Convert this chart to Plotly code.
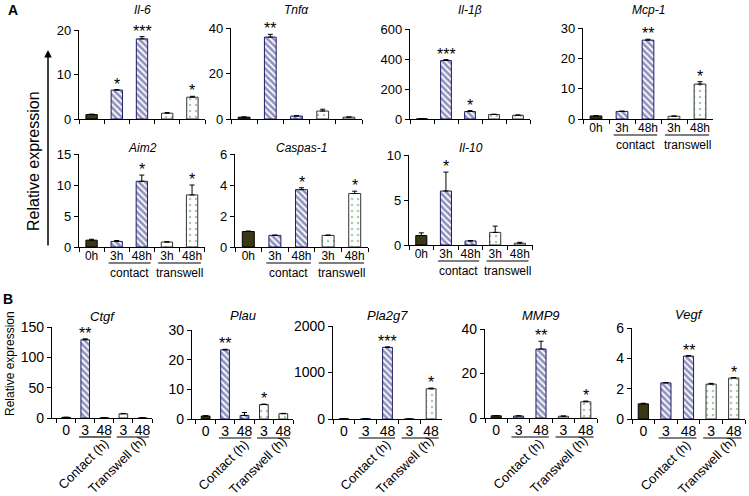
import plotly.graph_objects as go

# --- data -------------------------------------------------------------
genes = ["Il-6", "Tnfα", "Il-1β", "Mcp-1", "Aim2", "Caspas-1", "Il-10",
         "Ctgf", "Plau", "Pla2g7", "MMP9", "Vegf"]
cats = ["ctl", "c3", "c48", "t3", "t48"]
labels_a = ["0h", "3h", "48h", "3h", "48h"]
labels_b = ["0", "3", "48", "3", "48"]

il6 = [1.0, 6.5, 18.0, 1.3, 4.9]
il6_err = [0.1, 0.1, 0.5, 0.15, 0.2]
tnfa = [0.8, 36.0, 1.3, 3.5, 0.8]
tnfa_err = [0.1, 1.2, 0.2, 0.8, 0.1]
il1b = [1.0, 390.0, 50.0, 30.0, 25.0]
il1b_err = [0.5, 6.0, 6.0, 2.0, 2.0]
mcp1 = [1.0, 2.5, 26.0, 0.9, 11.5]
mcp1_err = [0.1, 0.1, 0.3, 0.1, 0.8]
aim2 = [1.1, 0.9, 10.6, 0.8, 8.4]
aim2_err = [0.15, 0.15, 1.0, 0.05, 1.6]
casp1 = [1.0, 0.75, 3.7, 0.75, 3.45]
casp1_err = [0.03, 0.02, 0.12, 0.02, 0.15]
il10 = [1.05, 6.0, 0.45, 1.4, 0.2]
il10_err = [0.3, 2.1, 0.05, 0.7, 0.1]
ctgf = [1.0, 129.0, 0.5, 7.0, 0.3]
ctgf_err = [0.2, 1.5, 0.1, 0.5, 0.1]
plau = [1.0, 23.3, 1.2, 4.9, 1.8]
plau_err = [0.1, 0.2, 1.0, 0.1, 0.1]
pla2g7 = [1.0, 5.0, 1540.0, 1.0, 650.0]
pla2g7_err = [0.5, 1.0, 10.0, 0.5, 15.0]
mmp9 = [1.0, 0.9, 31.0, 0.8, 7.3]
mmp9_err = [0.1, 0.1, 3.5, 0.1, 0.3]
vegf = [1.0, 2.38, 4.15, 2.3, 2.7]
vegf_err = [0.04, 0.02, 0.03, 0.05, 0.03]

values = [il6, tnfa, il1b, mcp1, aim2, casp1, il10, ctgf, plau, pla2g7, mmp9, vegf]
errors = [il6_err, tnfa_err, il1b_err, mcp1_err, aim2_err, casp1_err, il10_err,
          ctgf_err, plau_err, pla2g7_err, mmp9_err, vegf_err]
stars = [
    ["", "*", "***", "", "*"],
    ["", "**", "", "", ""],
    ["", "***", "*", "", ""],
    ["", "", "**", "", "*"],
    ["", "", "*", "", "*"],
    ["", "", "*", "", "*"],
    ["", "*", "", "", ""],
    ["", "**", "", "", ""],
    ["", "**", "", "*", ""],
    ["", "", "***", "", "*"],
    ["", "", "**", "", "*"],
    ["", "", "**", "", "*"],
]
ymax = [20, 40, 600, 30, 15, 6, 10, 150, 30, 2000, 40, 6]
dtick = [10, 20, 200, 10, 5, 2, 5, 50, 10, 1000, 20, 2]

# --- layout (pixel boxes: left, right, top, zero) ----------------------
W, H = 749, 496
boxes = [
    (79, 205, 30, 119), (231, 362, 28, 119), (410, 530, 29, 119), (583, 713, 28, 119),
    (79, 205, 154, 247), (235, 368, 154, 247), (409, 533, 155, 245),
    (52, 152, 327, 418), (192, 293, 330, 419), (333, 442, 326, 419),
    (485, 597, 329, 418), (632, 745, 328, 419),
]
title_y = [10, 10, 10, 10, 148, 148, 148, 316, 315, 315, 315, 314]
label_mode = ["none", "none", "none", "a", "a", "a", "a", "b", "b", "b", "b", "b"]

FONT = "Liberation Sans, Arial, sans-serif"
OLIVE = "#3a3814"
NAVY = "#21247a"
GREEN = "#5c9a5c"

# bar groups: (indices, fill, pattern shape, pattern colour, size, solidity, outline)
groups = [
    ([0], OLIVE, "", OLIVE, 4, 0.5, "black"),
    ([1, 2], "white", "\\", NAVY, 4.5, 0.6, "#1c1c66"),
    ([3, 4], "white", ".", GREEN, 6, 0.15, "#333333"),
]

fig = go.Figure()
annotations = []
shapes = []


def txt(size=12, **kw):
    base = dict(showarrow=False, xanchor="center", yanchor="middle",
                font=dict(size=size, family=FONT, color="black"))
    base.update(kw)
    return base


for i, g in enumerate(genes):
    n = "" if i == 0 else str(i + 1)
    xa, ya = "x" + n, "y" + n
    for idx, fill, shp, fg, sz, sol, lc in groups:
        fig.add_trace(go.Bar(
            x=[cats[k] for k in idx], y=[values[i][k] for k in idx],
            xaxis=xa, yaxis=ya, width=0.45,
            marker=dict(color=fill, line=dict(color=lc, width=1),
                        pattern=dict(shape=shp, fgcolor=fg, bgcolor=fill,
                                     size=sz, solidity=sol, fillmode="overlay")),
            error_y=dict(type="data", array=[errors[i][k] for k in idx],
                         arrayminus=[0] * len(idx), symmetric=False,
                         color="black", thickness=1, width=2.5),
            showlegend=False, hoverinfo="skip",
        ))
    l, r, t, z = boxes[i]
    mode = label_mode[i]
    big = mode == "b"
    ticktext = labels_b if big else labels_a
    fig.update_layout({
        "xaxis" + n: dict(domain=[l / W, r / W], anchor=ya, type="category",
                          categoryorder="array", categoryarray=cats,
                          tickvals=cats, ticktext=ticktext, tickangle=0,
                          showticklabels=mode != "none", automargin=False,
                          ticks="outside", tickson="boundaries", ticklen=4,
                          tickcolor="black", showline=True, linecolor="black",
                          linewidth=1.3, showgrid=False, zeroline=False,
                          ticklabelstandoff=(-1 if big else -3),
                          tickfont=dict(size=(14 if big else 12), family=FONT,
                                        color="black")),
        "yaxis" + n: dict(domain=[1 - z / H, 1 - t / H], anchor=xa,
                          range=[0, ymax[i]], dtick=dtick[i], ticks="outside",
                          ticklen=4, tickcolor="black", showline=True,
                          linecolor="black", linewidth=1.3, showgrid=False,
                          zeroline=False, automargin=False,
                          tickfont=dict(size=(14 if big else 13), family=FONT,
                                        color="black")),
    })
    # gene title
    annotations.append(txt(size=(13 if big else 12), text="<i>" + g + "</i>",
                           xref=xa + " domain", x=0.5,
                           yref="paper", y=1 - title_y[i] / H))
    # significance stars
    for j, s in enumerate(stars[i]):
        if s:
            annotations.append(txt(size=16, text=s, xref=xa, yref=ya, x=j,
                                   y=values[i][j] + errors[i][j],
                                   yanchor="bottom", yshift=-5))
    # group underlines and labels
    if mode != "none":
        uy = 1 - (z + (19 if big else 16)) / H
        for a0, a1 in [(0.68, 2.35), (2.65, 4.35)]:
            shapes.append(dict(type="line", xref=xa, yref="paper", x0=a0, x1=a1,
                               y0=uy, y1=uy, line=dict(color="black", width=1.2)))
        if not big:
            for xc, lab in [(1.5, "contact"), (3.5, "transwell")]:
                annotations.append(txt(text=lab, xref=xa, yref="paper", x=xc,
                                       y=1 - (z + 26) / H))
        else:
            for xc, lab, sh in [(1.5, "Contact (h)", -12), (3.5, "Transwell (h)", -16)]:
                annotations.append(txt(size=13, text=lab, xref=xa, yref="paper", x=xc,
                                       xshift=sh, y=1 - (z + 46) / H, textangle=-45))

# panel letters, y-axis titles, arrow
annotations += [
    txt(size=14, text="<b>A</b>", xref="paper", yref="paper", x=13 / W, y=1 - 10 / H),
    txt(size=14, text="<b>B</b>", xref="paper", yref="paper", x=8 / W, y=1 - 299 / H),
    txt(size=16, text="Relative expression", xref="paper", yref="paper", x=33 / W,
        y=1 - 161 / H, textangle=-90),
    txt(size=12, text="Relative expression", xref="paper", yref="paper", x=10 / W,
        y=1 - 364 / H, textangle=-90),
    dict(text="", xref="paper", yref="paper", x=48 / W, y=1 - 50 / H,
         axref="pixel", ayref="pixel", ax=0, ay=197, showarrow=True,
         arrowhead=2, arrowsize=1, arrowwidth=1.5, arrowcolor="black"),
]

fig.update_layout(
    template="none",
    width=W, height=H, margin=dict(l=0, r=0, t=0, b=0, autoexpand=False),
    paper_bgcolor="white", plot_bgcolor="white", barmode="overlay",
    annotations=annotations, shapes=shapes,
    font=dict(family=FONT, color="black"),
)

fig.write_html("out.html", config={"displayModeBar": False},
               post_script="document.body.style.margin='0';")
